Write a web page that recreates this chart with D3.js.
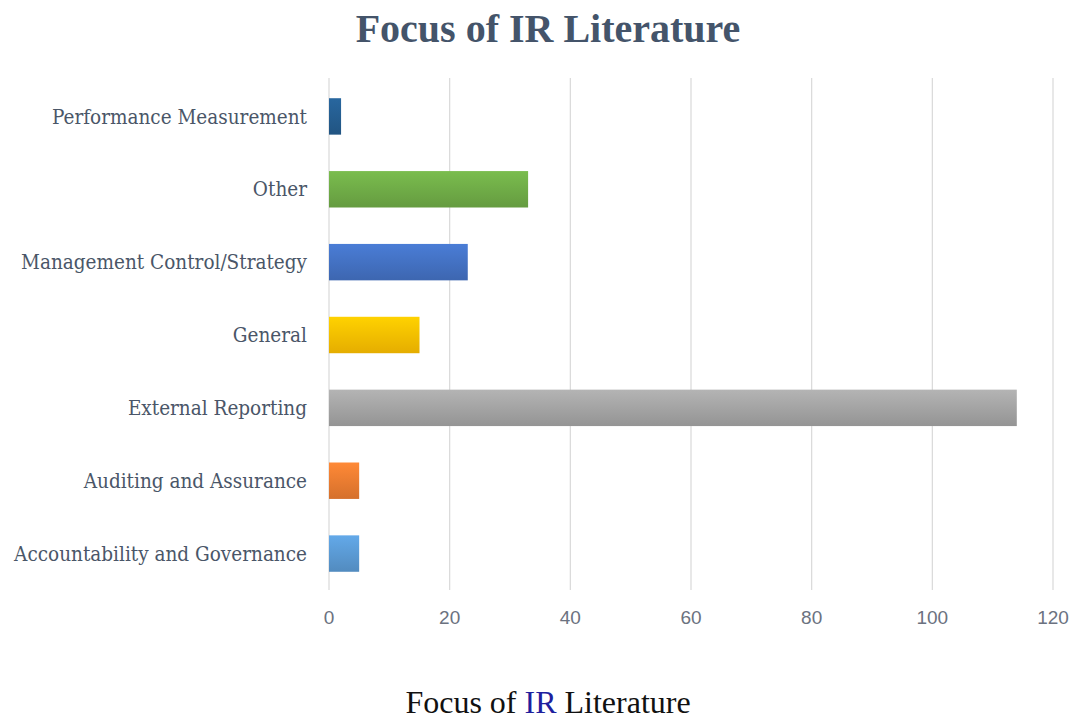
<!DOCTYPE html>
<html lang="en">
<head>
<meta charset="UTF-8" />
<title>Focus of IR Literature</title>
<script src="https://d3js.org/d3.v7.min.js"></script>
<style>
  body { margin: 0; background: #fff; }
  svg { display: block; }
  .cat-label { font-family: "DejaVu Serif Condensed", "DejaVu Serif", serif; font-size: 20.5px; fill: #4a5668; }
  .tick-label { font-family: "Liberation Sans Narrow", "Liberation Sans", sans-serif; font-size: 19px; fill: #6b7280; }
  .title { font-family: "Liberation Serif", serif; font-weight: bold; font-size: 40px; fill: #44546a; }
  .caption { font-family: "Liberation Serif", "Times New Roman", serif; font-size: 32px; fill: #111; }
</style>
</head>
<body>
<svg id="chart" width="1080" height="720"></svg>
<script>
const categories = ["Performance Measurement", "Other", "Management Control/Strategy", "General",
  "External Reporting", "Auditing and Assurance", "Accountability and Governance"];
const values = [2, 33, 23, 15, 114, 5, 5];
const colors = ["#255e91", "#70ad47", "#4472c4", "#ffc000", "#a5a5a5", "#ed7d31", "#5b9bd5"];
const xTicks = [0, 20, 40, 60, 80, 100, 120];

const svg = d3.select("#chart");
const margin = { top: 80, right: 27, bottom: 130, left: 329 };
const W = 1080, H = 720;

const x = d3.scaleLinear().domain([0, 120]).range([margin.left, W - margin.right]);
const y = d3.scaleBand().domain(categories).range([margin.top, H - margin.bottom])
  .paddingInner(0.5).paddingOuter(0.25);

// vertical gradients, lighter on top
const defs = svg.append("defs");
colors.forEach((c, i) => {
  const g = defs.append("linearGradient").attr("id", "grad" + i)
    .attr("x1", 0).attr("y1", 0).attr("x2", 0).attr("y2", 1);
  g.append("stop").attr("offset", "0%").attr("stop-color", d3.color(c).brighter(0.25));
  g.append("stop").attr("offset", "100%").attr("stop-color", d3.color(c).darker(0.3));
});

// gridlines
svg.append("g").selectAll("line")
  .data(xTicks)
  .enter().append("line")
  .attr("x1", d => x(d)).attr("x2", d => x(d))
  .attr("y1", margin.top - 2).attr("y2", H - margin.bottom)
  .attr("stroke", "#d9d9d9").attr("stroke-width", 1.2);

// bars
svg.append("g").selectAll("rect")
  .data(categories)
  .enter().append("rect")
  .attr("x", x(0))
  .attr("y", d => y(d))
  .attr("height", y.bandwidth())
  .attr("width", (d, i) => x(values[i]) - x(0))
  .attr("fill", (d, i) => `url(#grad${i})`);

// category labels
svg.append("g").selectAll("text")
  .data(categories)
  .enter().append("text")
  .attr("class", "cat-label")
  .attr("x", margin.left - 22)
  .attr("y", d => y(d) + y.bandwidth() / 2)
  .attr("dy", "0.35em")
  .attr("text-anchor", "end")
  .text(d => d);

// x tick labels
svg.append("g").selectAll("text")
  .data(xTicks)
  .enter().append("text")
  .attr("class", "tick-label")
  .attr("x", d => x(d))
  .attr("y", 624)
  .attr("text-anchor", "middle")
  .text(d => d);

svg.append("text")
  .attr("class", "title")
  .attr("x", 548).attr("y", 42)
  .attr("text-anchor", "middle")
  .text("Focus of IR Literature");

const cap = svg.append("text")
  .attr("class", "caption")
  .attr("x", 548).attr("y", 713)
  .attr("text-anchor", "middle");
cap.append("tspan").text("Focus of ");
cap.append("tspan").attr("fill", "#1f1f9e").text("IR");
cap.append("tspan").text(" Literature");
</script>
</body>
</html>
